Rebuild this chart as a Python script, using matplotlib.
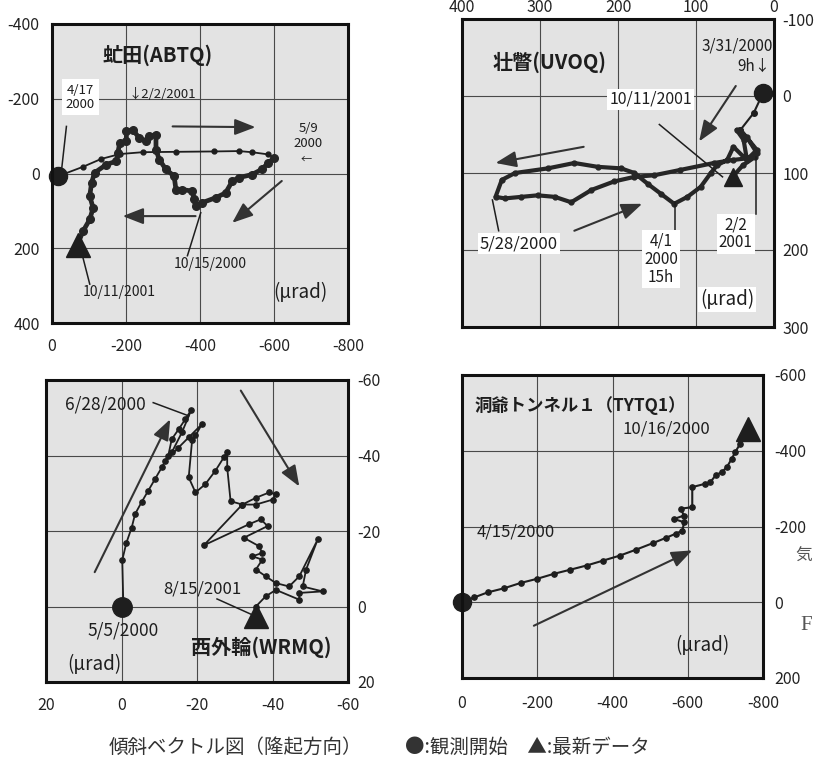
import matplotlib
matplotlib.use('Agg')
import matplotlib.pyplot as plt

plt.rcParams['font.family'] = ['Noto Sans CJK JP', 'DejaVu Sans']
plt.rcParams['axes.unicode_minus'] = False

# ---------------- data (micro-radian tilt vectors) ----------------
# Panel 1: 虻田 (ABTQ)
abtq_leg1_x = [-17, -84, -133, -183, -245, -335, -438, -505, -540, -585, -601]
abtq_leg1_y = [7, -18, -39, -52, -57, -58, -59, -60, -57, -51, -42]
abtq_x = [-601, -585, -567, -540, -505, -487, -469, -442, -406, -388,
          -384, -379, -352, -335, -330, -308, -290, -281, -281, -263,
          -254, -236, -218, -201, -201, -183, -178, -174, -147, -115,
          -107, -102, -111, -102, -84, -71]
abtq_y = [-42, -29, -11, 3, 11, 21, 52, 65, 78, 87,
          69, 47, 43, 43, 7, -11, -37, -64, -104, -99,
          -86, -95, -117, -113, -86, -82, -55, -33, -24, -2,
          25, 60, 92, 123, 154, 185]
abtq_start = (-17, 7)
abtq_latest = (-70, 192)

# Panel 2: 壮瞥 (UVOQ)
uvoq_x = [14, 26, 43, 22, 35, 52, 60, 73, 81, 94,
          111, 128, 145, 162, 179, 196, 226, 256, 290, 332,
          349, 357, 345, 324, 303, 281, 260, 234, 205, 179,
          154, 120, 77, 52, 35, 39, 48, 35, 22, 24,
          40, 53]
uvoq_y = [-4, 22, 44, 70, 83, 66, 83, 90, 100, 118,
          131, 140, 127, 114, 100, 94, 92, 87, 94, 100,
          109, 131, 133, 131, 129, 131, 138, 122, 111, 105,
          103, 96, 87, 83, 81, 57, 44, 53, 74, 79,
          90, 105]
uvoq_start = (14, -4)
uvoq_latest = (53, 105)

# Panel 3: 西外輪 (WRMQ)
wrmq_x = [-0.5, -0.2, -1.3, -2.7, -3.6, -5.3, -7.1, -8.9, -10.7, -12.4,
          -13.3, -15.1, -16.9, -18.5, -16.0, -13.3, -11.6, -15.0, -18.0, -21.3,
          -19.6, -18.7, -17.8, -19.6, -22.2, -24.9, -27.1, -28.0, -28.0, -28.9,
          -32.0, -35.6, -39.1, -40.9, -40.0, -35.6, -32.0, -21.8, -33.8, -36.9,
          -38.7, -32.4, -36.4, -37.3, -34.7, -37.3, -35.6, -38.2, -40.9, -44.4,
          -47.1, -52.0, -48.9, -48.0, -53.3, -47.1, -47.1, -40.9, -38.2, -35.6]
wrmq_y = [0, -12.3, -16.9, -20.9, -24.5, -27.6, -30.7, -33.8, -36.9, -40.0,
          -44.3, -46.9, -49.6, -52.1, -46.1, -40.8, -38.5, -42.0, -45.0, -48.3,
          -45.3, -44.0, -34.2, -30.2, -32.4, -36.0, -39.5, -40.8, -36.8, -27.9,
          -27.0, -28.8, -30.2, -29.7, -28.3, -27.0, -27.0, -16.2, -21.8, -23.1,
          -21.3, -18.2, -16.0, -14.2, -13.3, -12.4, -9.8, -8.0, -6.2, -5.3,
          -8.0, -17.8, -9.8, -5.3, -4.0, -3.6, -1.8, -4.4, -2.7, 0]
wrmq_start = (0, 0)
wrmq_latest = (-35.5, 2.5)

# Panel 4: 洞爺トンネル1 (TYTQ1)
tytq_x = [0, -33, -68, -112, -156, -200, -244, -288, -331, -375,
          -419, -463, -507, -542, -568, -586, -590, -564, -590, -581,
          -612, -612, -647, -660, -674, -691, -704, -717, -726, -739, -757]
tytq_y = [0, -13, -26, -37, -51, -62, -75, -86, -97, -110,
          -123, -139, -156, -170, -181, -189, -211, -220, -229, -247,
          -251, -304, -313, -317, -335, -344, -357, -379, -396, -418, -441]
tytq_start = (0, 0)
tytq_latest = (-761, -458)

# tick values
abtq_xticks = [0, -200, -400, -600, -800]
abtq_yticks = [-400, -200, 0, 200, 400]
uvoq_xticks = [400, 300, 200, 100, 0]
uvoq_yticks = [-100, 0, 100, 200, 300]
wrmq_xticks = [20, 0, -20, -40, -60]
wrmq_yticks = [-60, -40, -20, 0, 20]
tytq_xticks = [0, -200, -400, -600, -800]
tytq_yticks = [-600, -400, -200, 0, 200]

# ---------------- drawing ----------------
W, H = 814, 759
fig = plt.figure(figsize=(W / 100, H / 100), dpi=100)
fig.patch.set_facecolor('white')

INK = '#1e1e1e'
FACE = '#e3e3e3'
GRID = '#4a4a4a'
TICK_FS = 11.5


def add_axes(px0, py0, px1, py1):
    return fig.add_axes([px0 / W, 1 - py1 / H, (px1 - px0) / W, (py1 - py0) / H])


def style(ax, xticks, yticks, xside, yside, xpad, ypad):
    ax.set_facecolor(FACE)
    ax.set_xlim(xticks[0], xticks[-1])
    ax.set_ylim(yticks[-1], yticks[0])
    ax.set_xticks(xticks)
    ax.set_yticks(yticks)
    ax.grid(True, color=GRID, lw=0.8)
    ax.set_axisbelow(True)
    for s in ax.spines.values():
        s.set_linewidth(2.2)
        s.set_color('#111111')
    if xside == 'top':
        ax.xaxis.tick_top()
    if yside == 'right':
        ax.yaxis.tick_right()
    ax.tick_params(axis='x', length=0, pad=xpad, labelsize=TICK_FS, labelcolor='#222222')
    ax.tick_params(axis='y', length=0, pad=ypad, labelsize=TICK_FS, labelcolor='#222222')


def arrow(ax, tail, head):
    ax.annotate('', xy=head, xytext=tail,
                arrowprops=dict(arrowstyle='-|>,head_length=0.9,head_width=0.35',
                                color='#333333', lw=1.5, shrinkA=0, shrinkB=0,
                                mutation_scale=14))


def leader(ax, p, q):
    ax.plot([p[0], q[0]], [p[1], q[1]], color=INK, lw=1.1)


WHITE = dict(facecolor='white', edgecolor='none', pad=1.5)

# ---- Panel 1: ABTQ ----
ax1 = add_axes(52, 24, 348, 323)
style(ax1, abtq_xticks, abtq_yticks, 'bottom', 'left', 11, 9)
ax1.plot(abtq_leg1_x, abtq_leg1_y, color=INK, lw=1.3, marker='o', ms=3.5)
ax1.plot(abtq_x, abtq_y, color='#262626', lw=3.4, marker='o', ms=5.5)
ax1.plot(*abtq_start, marker='o', ms=13, color=INK, clip_on=False)
ax1.plot(*abtq_latest, marker='^', ms=17, color=INK)
arrow(ax1, (-326, -126), (-550, -124))
arrow(ax1, (-388, 114), (-191, 114))
arrow(ax1, (-621, 20), (-487, 132))
leader(ax1, (-39, -126), (-26, -11))
leader(ax1, (-366, 220), (-402, 105))
leader(ax1, (-102, 296), (-80, 211))
ax1.text(-285, -317, '虻田(ABTQ)', fontsize=14.5, fontweight='bold', ha='center', va='center', color=INK)
ax1.text(-77, -204, '4/17\n2000', fontsize=9.5, ha='center', va='center', color=INK,
         bbox=dict(facecolor='white', edgecolor='none', pad=3), linespacing=1.15)
ax1.text(-299, -211, '↓2/2/2001', fontsize=9.5, ha='center', va='center', color=INK)
ax1.text(-693, -100, '5/9\n2000', fontsize=9.5, ha='center', va='center', color=INK, linespacing=1.15)
ax1.text(-688, -37, '←', fontsize=8, ha='center', va='center', color=INK)
ax1.text(-429, 243, '10/15/2000', fontsize=10, ha='center', va='center', color=INK)
ax1.text(-183, 318, '10/11/2001', fontsize=10, ha='center', va='center', color=INK)
ax1.text(-670, 318, '(μrad)', fontsize=13.5, ha='center', va='center', color=INK)

# ---- Panel 2: UVOQ ----
ax2 = add_axes(462, 19, 774, 327)
style(ax2, uvoq_xticks, uvoq_yticks, 'top', 'right', 2, 6)
ax2.plot(uvoq_x[:3], uvoq_y[:3], color=INK, lw=1.5, marker='o', ms=4)
ax2.plot(uvoq_x[2:], uvoq_y[2:], color='#262626', lw=3.0, marker='o', ms=3.5)
ax2.plot(*uvoq_start, marker='o', ms=13, color=INK, clip_on=False)
ax2.plot(*uvoq_latest, marker='^', ms=13, color=INK)
arrow(ax2, (244, 66), (357, 87))
arrow(ax2, (256, 175), (169, 140))
arrow(ax2, (49, -13), (96, 59))
leader(ax2, (147, 37), (66, 105))
leader(ax2, (23.5, 153), (23.5, 79))
leader(ax2, (353, 175), (361, 135))
leader(ax2, (127, 179), (127, 138))
ax2.text(288, -44, '壮瞥(UVOQ)', fontsize=14.5, fontweight='bold', ha='center', va='center', color=INK)
ax2.text(2, -65, '3/31/2000', fontsize=11, ha='right', va='center', color=INK)
ax2.text(5, -39, '9h↓', fontsize=11, ha='right', va='center', color=INK)
ax2.text(158, 4, '10/11/2001', fontsize=11.5, ha='center', va='center', color=INK, bbox=WHITE)
ax2.text(327, 192, '5/28/2000', fontsize=12, ha='center', va='center', color=INK, bbox=WHITE)
ax2.text(145, 212, '4/1\n2000\n15h', fontsize=11, ha='center', va='center', color=INK,
         bbox=WHITE, linespacing=1.1)
ax2.text(49, 179, '2/2\n2001', fontsize=11, ha='center', va='center', color=INK,
         bbox=WHITE, linespacing=1.1)
ax2.text(60, 264, '(μrad)', fontsize=13.5, ha='center', va='center', color=INK, bbox=WHITE)

# ---- Panel 3: WRMQ ----
ax3 = add_axes(46, 380, 348, 682)
style(ax3, wrmq_xticks, wrmq_yticks, 'bottom', 'right', 11, 7)
ax3.plot(wrmq_x, wrmq_y, color=INK, lw=1.3, marker='o', ms=3.8)
ax3.plot(*wrmq_start, marker='o', ms=14, color=INK)
ax3.plot(*wrmq_latest, marker='^', ms=17, color=INK)
arrow(ax3, (7.1, -9.1), (-12.9, -49.6))
arrow(ax3, (-31.6, -57.2), (-47.1, -31.8))
leader(ax3, (-8.4, -54), (-17.8, -50.5))
leader(ax3, (-25.3, -2), (-34.2, 2))
ax3.text(-36.9, 10.7, '西外輪(WRMQ)', fontsize=14.5, fontweight='bold', ha='center', va='center', color=INK)
ax3.text(4.4, -53.6, '6/28/2000', fontsize=12.5, ha='center', va='center', color=INK)
ax3.text(-21.3, -4.7, '8/15/2001', fontsize=12, ha='center', va='center', color=INK)
ax3.text(-0.4, 6.4, '5/5/2000', fontsize=12.5, ha='center', va='center', color=INK)
ax3.text(7.1, 15.3, '(μrad)', fontsize=13.5, ha='center', va='center', color=INK)

# ---- Panel 4: TYTQ1 ----
ax4 = add_axes(462, 375, 763, 678)
style(ax4, tytq_xticks, tytq_yticks, 'bottom', 'right', 12, 8)
ax4.plot(tytq_x, tytq_y, color=INK, lw=1.5, marker='o', ms=3.8)
ax4.plot(*tytq_start, marker='o', ms=13, color=INK, clip_on=False)
ax4.plot(*tytq_latest, marker='^', ms=17, color=INK)
arrow(ax4, (-191, 62), (-612, -137))
ax4.text(-33, -520, '洞爺トンネル１（TYTQ1）', fontsize=12.5, fontweight='bold', ha='left', va='center', color=INK)
ax4.text(-143, -185, '4/15/2000', fontsize=12, ha='center', va='center', color=INK)
ax4.text(-542, -458, '10/16/2000', fontsize=12, ha='center', va='center', color=INK)
ax4.text(-638, 115, '(μrad)', fontsize=13.5, ha='center', va='center', color=INK)

# ---- captions ----
fig.text(235 / W, 1 - 747 / H, '傾斜ベクトル図（隆起方向）', fontsize=14,
         ha='center', va='center', color='#333333')
fig.text(405 / W, 1 - 747 / H, '●:観測開始　▲:最新データ', fontsize=14,
         ha='left', va='center', color='#333333')
# fragments of the neighbouring page at the right edge
fig.text(812 / W, 1 - 556 / H, '気', fontsize=12, family=['Noto Sans CJK JP', 'DejaVu Sans'],
         ha='right', va='center', color='#555555')
fig.text(812 / W, 1 - 626 / H, 'F', fontsize=15, family=['Liberation Serif', 'DejaVu Serif'],
         ha='right', va='center', color='#555555')

fig.savefig('out.png', dpi=100)
